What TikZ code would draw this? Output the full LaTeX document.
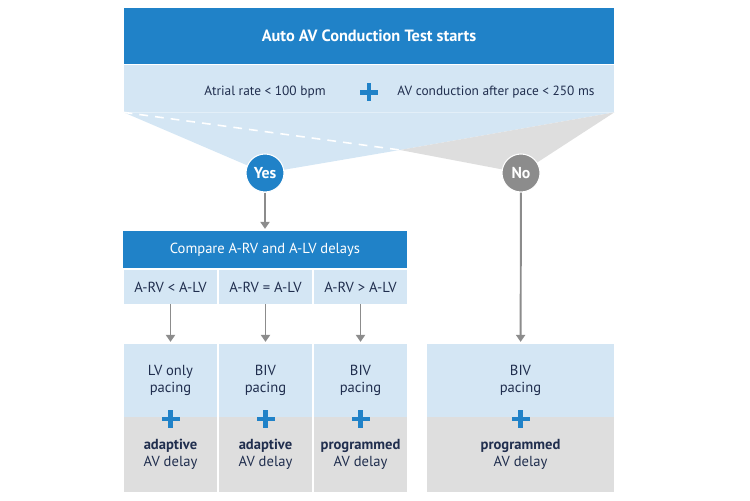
\documentclass[tikz,border=0pt]{standalone}
\usepackage{fontspec}
\setmainfont{PT Sans}
\usetikzlibrary{arrows.meta,calc}
\definecolor{darkblue}{RGB}{32,130,200}
\definecolor{paleblue}{RGB}{212,230,244}
\definecolor{palegray}{RGB}{222,222,222}
\definecolor{midgray}{RGB}{140,140,140}
\definecolor{navy}{RGB}{32,46,78}

\begin{document}
\begin{tikzpicture}[x=0.02cm, y=-0.02cm,
  txt/.style={font=\fontsize{8.3}{9.6}\selectfont, text=navy, align=center},
  cell/.style 2 args={txt, inner sep=0pt, minimum width=#1*0.02cm, minimum height=#2*0.02cm},
  head/.style={fill=darkblue, text=white},
  flow/.style={draw=midgray, line width=1.1pt, shorten >=1pt, -{Triangle[length=4pt,width=5.2pt]}},
  answer/.style={circle, draw=white, line width=0.6pt, minimum size=38*0.02cm, inner sep=0pt,
    text=white, font=\fontsize{9}{10}\selectfont\bfseries},
  crossmark/.pic={
    \fill[darkblue] (-9,-2.2) rectangle (9,2.2);
    \fill[darkblue] (-2.2,-9) rectangle (2.2,9);}]
  \useasboundingbox (0,0) rectangle (750,500);
  \node[cell={490}{56}, head, font=\fontsize{9.3}{10}\selectfont\bfseries] (title) at (369,36) {Auto AV Conduction Test starts};
  \node[cell={490}{47}, fill=paleblue] (band) at (369,88.5) {};
  \node[txt, font=\fontsize{7.6}{9}\selectfont] (rate) at (265,92) {Atrial rate < 100 bpm};
  \pic at (369,92.5) {crossmark};
  \node[txt, font=\fontsize{7.6}{9}\selectfont] (avc) at (496,92) {AV conduction after pace < 250 ms};
  \coordinate (split) at (400,150);
  \fill[paleblue] (band.south west) -- (265,173) -- (split) -- (band.south east) -- cycle;
  \fill[palegray] (split) -- (521,173) -- (band.south east) -- cycle;
  \draw[white, line width=0.9pt, dash pattern=on 5pt off 4pt] (band.south west) -- (split);
  \node[answer, fill=darkblue] (yes) at (265,173) {Yes};
  \node[answer, fill=midgray] (no) at (521,173) {No};
  \node[cell={284}{37}, head] (compare) at (265,249.5) {Compare A-RV and A-LV delays};
  \draw[flow] (yes) -- (compare);
  \foreach \n/\xc/\rel/\pace/\delay in {
    1/170.5/{A-RV < A-LV}/{LV only}/adaptive,
    2/265.5/{A-RV = A-LV}/BIV/adaptive,
    3/360.5/{A-RV > A-LV}/BIV/programmed}
  {
    \node[cell={93}{34}, fill=paleblue] (rel\n) at (\xc,287) {\rel};
    \node[cell={93}{73}, fill=paleblue] (pace\n) at (\xc,380.5) {\pace\\pacing};
    \node[cell={93}{75}, fill=palegray] (delay\n) at (\xc,454.5) {\textbf{\delay}\\AV delay};
    \pic at ($(pace\n.south)+(0,1.5)$) {crossmark};
    \draw[flow] (rel\n) -- (pace\n);
  }
  \node[cell={187}{73}, fill=paleblue] (pace4) at (520.5,380.5) {BIV\\pacing};
  \node[cell={187}{75}, fill=palegray] (delay4) at (520.5,454.5) {\textbf{programmed}\\AV delay};
  \pic at ($(pace4.south)+(0,1.5)$) {crossmark};
  \draw[flow] (no) -- (pace4);
\end{tikzpicture}
\end{document}
